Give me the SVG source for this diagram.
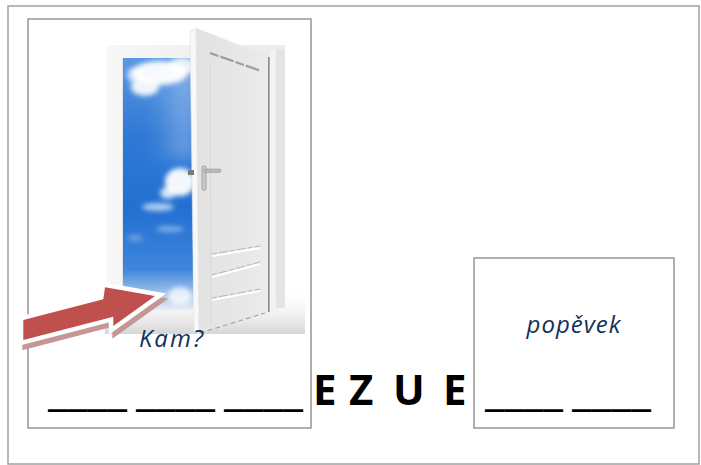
<svg xmlns="http://www.w3.org/2000/svg" width="701" height="465" viewBox="0 0 701 465">
<defs>
<style>
.box{fill:none;stroke:#9c9c9c;stroke-width:1.6}
.big{font-family:"Open Sans","Liberation Sans",sans-serif;font-weight:700;font-size:42px;fill:#000}
.lab{font-family:"Open Sans","Liberation Sans",sans-serif;font-style:italic;font-size:24px;fill:#14305a}
.panel{stroke:#ffffff;stroke-width:2.2;fill:none}
.panelS{stroke:#b5b5b5;stroke-width:1;stroke-dasharray:5 2 9 2;fill:none}
</style>
<linearGradient id="sky" x1="0" y1="0" x2="0" y2="1">
<stop offset="0" stop-color="#5b97e2"/>
<stop offset="0.3" stop-color="#3079d6"/>
<stop offset="0.6" stop-color="#2270d2"/>
<stop offset="0.84" stop-color="#3f86db"/>
<stop offset="1" stop-color="#e6edf4"/>
</linearGradient>
<linearGradient id="haze" x1="0" y1="0" x2="1" y2="0">
<stop offset="0" stop-color="#ffffff" stop-opacity="0"/>
<stop offset="1" stop-color="#ffffff" stop-opacity="0.35"/>
</linearGradient>
<linearGradient id="doorFace" x1="0" y1="0" x2="1" y2="0">
<stop offset="0" stop-color="#e2e2e2"/>
<stop offset="1" stop-color="#ebebeb"/>
</linearGradient>
<linearGradient id="floor" x1="0" y1="0" x2="0" y2="1">
<stop offset="0" stop-color="#ffffff" stop-opacity="0"/>
<stop offset="1" stop-color="#d6d6d6"/>
</linearGradient>
<linearGradient id="jamb" x1="0" y1="0" x2="1" y2="0">
<stop offset="0" stop-color="#f7f7f7"/>
<stop offset="1" stop-color="#ebebeb"/>
</linearGradient>
<filter id="blur" x="-50%" y="-50%" width="200%" height="200%"><feGaussianBlur stdDeviation="2.5"/></filter>
<filter id="haz" x="-50%" y="-50%" width="200%" height="200%"><feGaussianBlur stdDeviation="8"/></filter>
<filter id="soft" x="-20%" y="-20%" width="140%" height="140%"><feGaussianBlur stdDeviation="0.6"/></filter>
<clipPath id="skyClip"><rect x="123" y="58" width="70" height="252"/></clipPath>
</defs>

<g id="page">
<rect x="8" y="6" width="691" height="458" fill="#fff" stroke="#a6a6a6" stroke-width="1.6"/>
</g>

<g id="door-picture">
<rect x="105" y="285" width="200" height="49" fill="url(#floor)"/>
<rect x="107" y="45" width="178" height="255" fill="url(#jamb)"/>
<line x1="123" y1="58" x2="123" y2="305" stroke="#d2d2d2" stroke-width="1"/>
<g clip-path="url(#skyClip)">
<rect x="123" y="58" width="70" height="252" fill="url(#sky)"/>
<rect x="150" y="70" width="45" height="90" fill="url(#haze)" filter="url(#haz)"/>
<g filter="url(#blur)" fill="#ffffff">
<ellipse cx="160" cy="73" rx="28" ry="12" opacity="0.95"/>
<ellipse cx="145" cy="87" rx="14" ry="9" opacity="0.9"/>
<ellipse cx="135" cy="75" rx="8" ry="8" opacity="0.7"/>
<ellipse cx="182" cy="66" rx="14" ry="9" opacity="0.85"/>
<ellipse cx="180" cy="182" rx="15" ry="14" opacity="0.95"/>
<ellipse cx="168" cy="193" rx="8" ry="6" opacity="0.8"/>
<ellipse cx="158" cy="207" rx="16" ry="4" opacity="0.65"/>
<ellipse cx="170" cy="229" rx="14" ry="3" opacity="0.4"/>
<ellipse cx="135" cy="238" rx="8" ry="3" opacity="0.3"/>
<ellipse cx="180" cy="296" rx="12" ry="9" opacity="0.75"/>
</g>
</g>
<rect x="268" y="57" width="1.8" height="255" fill="#8a8a8a"/>
<rect x="269.8" y="50" width="6" height="262" fill="#f3f3f3"/>
<rect x="275.8" y="50" width="9.2" height="258" fill="#e4e4e4"/>
<polygon points="196,28 268,56 268,312 199,334" fill="url(#doorFace)"/>
<polygon points="190,31 196,28 199,334 194,332" fill="#f8f8f8" stroke="#e0e0e0" stroke-width="0.6"/>
<line x1="210" y1="62" x2="211" y2="325" stroke="#d8d8d8" stroke-width="1"/>
<line x1="210" y1="53" x2="261" y2="71" stroke="#9e9e9e" stroke-width="2.2" stroke-dasharray="9 2 14 2"/>
<line x1="212" y1="256" x2="260" y2="248" class="panel"/>
<line x1="212" y1="254" x2="260" y2="246" class="panelS"/>
<line x1="212" y1="277" x2="260" y2="264" class="panel"/>
<line x1="212" y1="275" x2="260" y2="262" class="panelS"/>
<line x1="212" y1="300" x2="260" y2="291" class="panel"/>
<line x1="212" y1="298" x2="260" y2="289" class="panelS"/>
<line x1="200" y1="333" x2="265" y2="313" stroke="#a6a6a6" stroke-width="1.2" stroke-dasharray="5 3"/>
<g id="handle" filter="url(#soft)">
<rect x="188" y="170" width="6" height="5" fill="#7a7a7a"/>
<rect x="202" y="166" width="4" height="24" rx="1" fill="#c9c9c9" stroke="#9a9a9a" stroke-width="0.8"/>
<rect x="204" y="169" width="17" height="3.5" rx="1.5" fill="#b8b8b8" stroke="#9a9a9a" stroke-width="0.6"/>
</g>
</g>

<g id="image-card">
<rect x="28" y="19" width="283" height="409" class="box"/>
</g>

<g id="arrow">
<polygon points="23.3,320 103.3,299.3 105,287.3 155,296 113.3,326 113.3,316.7 23.3,340" fill="#c49696" stroke="#c49696" stroke-width="8" stroke-linejoin="miter" transform="translate(3,5)"/>
<polygon points="23.3,320 103.3,299.3 105,287.3 155,296 113.3,326 113.3,316.7 23.3,340" fill="#ffffff" stroke="#ffffff" stroke-width="9" stroke-linejoin="miter"/>
<polygon points="23.3,320 103.3,299.3 105,287.3 155,296 113.3,326 113.3,316.7 23.3,340" fill="#c0504d"/>
</g>

<g id="label-kam">
<text x="172" y="347" text-anchor="middle" class="lab" letter-spacing="2">Kam?</text>
</g>

<g id="word-box">
<rect x="474" y="258" width="200" height="170" class="box"/>
<text x="574" y="333" text-anchor="middle" class="lab" letter-spacing="1">popěvek</text>
</g>

<g id="puzzle-text">
<text class="big" y="405"><tspan x="48" textLength="79" lengthAdjust="spacingAndGlyphs">____</tspan><tspan x="136" textLength="79" lengthAdjust="spacingAndGlyphs">____</tspan><tspan x="224" textLength="79" lengthAdjust="spacingAndGlyphs">____</tspan><tspan x="313">E</tspan><tspan x="349">Z</tspan><tspan x="393">U</tspan><tspan x="443">E</tspan><tspan x="485" textLength="78" lengthAdjust="spacingAndGlyphs">____</tspan><tspan x="572" textLength="79" lengthAdjust="spacingAndGlyphs">____</tspan></text>
</g>
</svg>
